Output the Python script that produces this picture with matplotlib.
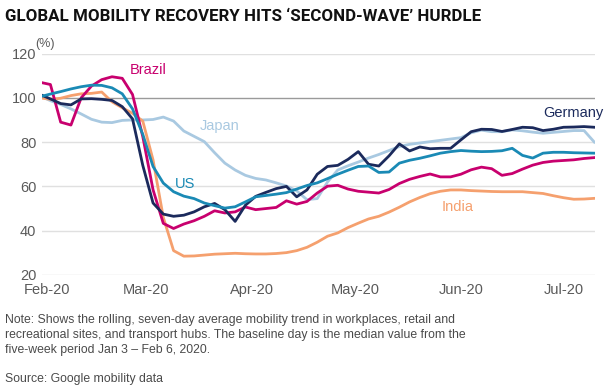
import matplotlib
matplotlib.use('Agg')
import matplotlib.pyplot as plt
import matplotlib.dates as mdates
import pandas as pd

# 7-day rolling mobility, % of baseline, sampled every 3 days
dates = pd.date_range('2020-01-30', periods=55, freq='3D')

brazil = [107, 106, 89, 87.7, 100, 105.3, 108.2, 109.5, 108.8, 101.5,
          82.5, 58.5, 43.3, 41, 43, 44.5, 46.5, 49, 48, 48.5,
          50.7, 49.5, 50, 50.5, 53.5, 52, 53.2, 57, 60.1, 60.5,
          58.8, 57.8, 57.4, 57, 58.6, 61.3, 63.2, 64.5, 65.6, 64.3,
          64.3, 65.5, 67.5, 68.7, 68, 65, 65.8, 67.8, 69.6, 70.8,
          71.4, 71.7, 72, 72.6, 73]
germany = [101.5, 99.5, 97.4, 96.8, 99.5, 99.6, 99.3, 98.8, 96, 90.5,
           69.5, 52.5, 47.5, 46.5, 47, 48.5, 50.8, 52.3, 49.5, 44.2,
           51.5, 55.5, 57.3, 59, 60, 55.3, 58.4, 65.5, 69, 69.5,
           72.2, 75.7, 70, 69.2, 73.8, 79.2, 76, 77.8, 77, 77.2,
           77.2, 81, 84.7, 85.8, 85.7, 84.8, 85.7, 86.7, 86.5, 85.2,
           85.8, 86.7, 86.8, 87, 86.7]
japan = [100.8, 98.7, 97, 95, 92.7, 90.3, 89, 88.8, 89.8, 90,
         90, 90.2, 91.3, 89.5, 85, 82.6, 80.2, 75.2, 70.5, 67.4,
         65, 63.6, 62.9, 61.6, 60.2, 58, 54, 54.5, 62, 67.4,
         69.3, 71, 72.8, 74.4, 76.2, 78, 79, 79.6, 80.2, 80.8,
         81.4, 82, 84.2, 85.4, 84.7, 84.7, 85.5, 85.1, 84.5, 84,
         84.4, 84.8, 85.2, 85.2, 80]
us = [100.5, 101.7, 102.8, 104, 105, 105.7, 105.6, 104.5, 101.8, 95,
      83.5, 69, 61.5, 57.6, 55.6, 54.5, 52.5, 51.3, 50.2, 50.8,
      53, 55.3, 55.9, 56.5, 57.2, 58.8, 60.4, 61.6, 63.5, 65.5,
      67.3, 69, 69.2, 66.3, 66.5, 70.5, 71.8, 72.7, 73.8, 75,
      75.7, 76.2, 75.9, 75.7, 75.8, 76.1, 77.2, 74, 72.8, 75,
      75.4, 75.4, 75.2, 75.1, 75]
india = [100, 99.3, 99.8, 101, 101.8, 102, 102.6, 98.2, 95.5, 93,
         89.5, 72, 46, 31, 28.5, 28.6, 29, 29.4, 29.6, 29.8,
         29.6, 29.5, 29.5, 29.7, 30.1, 31, 32.5, 34.8, 37.5, 39,
         41.4, 43.4, 45.3, 46.5, 48.4, 50.6, 53, 55, 56.7, 57.8,
         58.4, 58.4, 58.1, 57.9, 57.7, 57.6, 57.6, 57.6, 57.2, 56.8,
         55.8, 54.9, 54.2, 54.3, 54.6]

series = [
    ('Japan', japan, '#a9c9e1'),
    ('India', india, '#f5a06e'),
    ('Brazil', brazil, '#c8006e'),
    ('Germany', germany, '#1b2a5c'),
    ('US', us, '#1a8ab5'),
]
# label positions (days after Feb 1, value)
label_pos = {
    'Brazil': (29.5, 112.5),
    'Japan': (50.5, 87.3),
    'US': (40.5, 61.1),
    'Germany': (154, 93.1),
    'India': (120, 50.7),
}

plt.rcParams['font.family'] = ['Liberation Sans', 'DejaVu Sans']

fig = plt.figure(figsize=(6.12, 3.92), dpi=100)
ax = fig.add_axes([42 / 612, 1 - 275 / 392, 553 / 612, 221.5 / 392])

for y in [20, 40, 60, 80, 120]:
    ax.axhline(y, color='#e0e0e0', lw=1, zorder=0)
ax.axhline(100, color='#9a9a9a', lw=1, zorder=0)

feb1 = pd.Timestamp('2020-02-01')
for name, vals, col in series:
    ax.plot(dates, vals, color=col, lw=2, solid_joinstyle='round', zorder=2)
    dx, yy = label_pos[name]
    ax.text(feb1 + pd.Timedelta(days=dx), yy, name, color=col, fontsize=10.5,
            ha='center', va='center')

ax.set_ylim(20, 120)
ax.set_xlim(feb1 - pd.Timedelta(days=1.46), feb1 + pd.Timedelta(days=160.2))
ax.set_yticks([20, 40, 60, 80, 100, 120])
ax.xaxis.set_major_locator(mdates.MonthLocator())
ax.xaxis.set_major_formatter(mdates.DateFormatter('%b-%y'))
ax.tick_params(axis='both', length=0, labelsize=10.5, labelcolor='#5a5a5a')
ax.tick_params(axis='y', pad=4)
ax.tick_params(axis='x', pad=6)
for s in ax.spines.values():
    s.set_visible(False)

fig.text(35 / 612, 1 - 44 / 392, '(%)', fontsize=9, color='#5a5a5a', va='center')

fig.text(5 / 612, 1 - 9 / 392, 'GLOBAL MOBILITY RECOVERY HITS \u2018SECOND-WAVE\u2019 HURDLE',
         fontsize=12.2, fontweight='bold', color='#111111', va='top',
         family=['Liberation Sans Narrow', 'Roboto', 'DejaVu Sans'])

note = ('Note: Shows the rolling, seven-day average mobility trend in workplaces, retail and\n'
        'recreational sites, and transport hubs. The baseline day is the median value from the\n'
        'five-week period Jan 3 \u2013 Feb 6, 2020.')
fig.text(5 / 612, 1 - 314 / 392, note, fontsize=8.8, color='#4a4a4a', va='top',
         linespacing=1.33, family=['Liberation Sans Narrow', 'Liberation Sans', 'DejaVu Sans'])
fig.text(5 / 612, 1 - 373 / 392, 'Source: Google mobility data', fontsize=8.8, color='#4a4a4a',
         va='top', family=['Liberation Sans Narrow', 'Liberation Sans', 'DejaVu Sans'])

fig.savefig('out.png', dpi=100)
